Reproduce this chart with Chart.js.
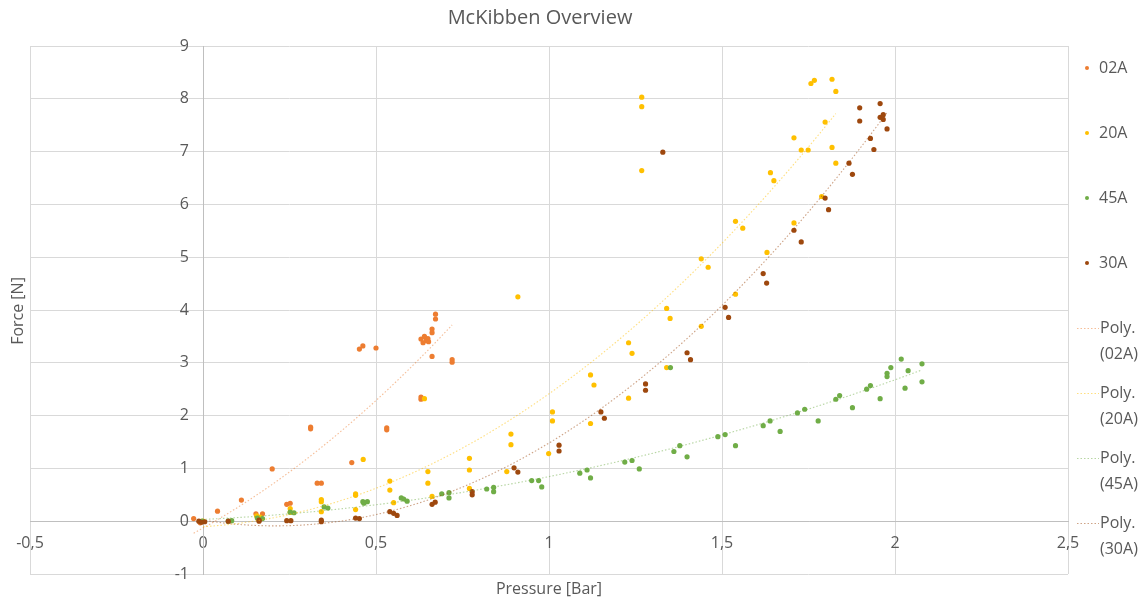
<!DOCTYPE html>
<html>
<head>
<meta charset="utf-8">
<title>McKibben Overview</title>
<script src="https://cdn.jsdelivr.net/npm/chart.js@4.4.1/dist/chart.umd.min.js"></script>
<style>
    html, body { margin: 0; padding: 0; background: #fff; }
    #wrap { width: 1148px; height: 601px; }
</style>
</head>
<body>
<div id="wrap"><canvas id="chart" width="1148" height="601"></canvas></div>
<script>
var x02A = [-0.027, -0.008, 0.042, 0.111, 0.200, 0.153, 0.172, 0.242, 0.252, 0.311, 0.311, 0.330, 0.342, 0.430,
    0.452, 0.462, 0.500, 0.531, 0.531, 0.630, 0.636, 0.640, 0.645, 0.650, 0.652, 0.662, 0.662, 0.672, 0.672,
    0.662, 0.630, 0.630, 0.720, 0.720];
var y02A = [0.05, -0.03, 0.19, 0.40, 0.99, 0.14, 0.14, 0.32, 0.34, 1.78, 1.75, 0.72, 0.72, 1.11,
    3.26, 3.32, 3.28, 1.77, 1.73, 3.45, 3.38, 3.50, 3.42, 3.46, 3.40, 3.64, 3.57, 3.92, 3.83,
    3.12, 2.35, 2.31, 3.06, 3.01];

var x20A = [0.000, 0.155, 0.165, 0.252, 0.252, 0.342, 0.342, 0.342, 0.441, 0.441, 0.441, 0.463, 0.540, 0.540, 0.551,
    0.640, 0.650, 0.650, 0.662, 0.770, 0.770, 0.770, 0.878, 0.890, 0.890, 0.910, 0.999, 1.010, 1.010,
    1.120, 1.130, 1.120, 1.230, 1.240, 1.230, 1.268, 1.268, 1.268, 1.340, 1.350, 1.340, 1.440, 1.440, 1.460,
    1.539, 1.560, 1.539, 1.630, 1.640, 1.650, 1.708, 1.708, 1.729, 1.749, 1.757, 1.767, 1.818, 1.829,
    1.798, 1.818, 1.829, 1.788];
var y20A = [0.00, 0.10, 0.08, 0.24, 0.17, 0.41, 0.37, 0.18, 0.52, 0.49, 0.22, 1.17, 0.76, 0.59, 0.35,
    2.32, 0.94, 0.72, 0.47, 1.19, 0.97, 0.62, 0.94, 1.65, 1.45, 4.25, 1.28, 2.07, 1.90,
    2.77, 2.58, 1.85, 3.38, 3.18, 2.33, 8.03, 7.85, 6.64, 4.03, 3.84, 2.91, 3.69, 4.97, 4.81,
    5.68, 5.55, 4.30, 5.09, 6.60, 6.45, 5.65, 7.26, 7.03, 7.03, 8.29, 8.35, 8.37, 8.14,
    7.56, 7.08, 6.78, 6.15];

var x45A = [-0.003, 0.073, 0.083, 0.157, 0.172, 0.252, 0.263, 0.350, 0.361, 0.462, 0.475, 0.465, 0.573, 0.580, 0.590,
    0.690, 0.711, 0.711, 0.820, 0.840, 0.840, 0.950, 0.970, 0.979, 1.089, 1.110, 1.120, 1.219, 1.240, 1.261,
    1.351, 1.361, 1.378, 1.399, 1.488, 1.509, 1.539, 1.619, 1.639, 1.668, 1.718, 1.739, 1.778, 1.829, 1.840,
    1.877, 1.918, 1.929, 1.957, 1.977, 1.977, 1.988, 2.018, 2.029, 2.038, 2.078, 2.078];
var y45A = [0.00, 0.00, 0.01, 0.06, 0.05, 0.17, 0.16, 0.27, 0.25, 0.37, 0.37, 0.34, 0.44, 0.42, 0.38,
    0.52, 0.54, 0.44, 0.61, 0.64, 0.56, 0.77, 0.77, 0.65, 0.91, 0.97, 0.82, 1.12, 1.15, 0.99,
    2.91, 1.32, 1.43, 1.22, 1.60, 1.64, 1.43, 1.81, 1.90, 1.70, 2.05, 2.12, 1.90, 2.31, 2.38,
    2.15, 2.50, 2.57, 2.32, 2.80, 2.74, 2.91, 3.07, 2.52, 2.85, 2.98, 2.64];

var x30A = [-0.012, -0.005, 0.005, 0.073, 0.162, 0.162, 0.242, 0.254, 0.342, 0.342, 0.441, 0.452, 0.540, 0.551, 0.561,
    0.662, 0.671, 0.778, 0.778, 0.899, 0.910, 1.029, 1.029, 1.150, 1.160, 1.279, 1.279, 1.329, 1.399, 1.409,
    1.509, 1.519, 1.619, 1.629, 1.708, 1.729, 1.798, 1.808, 1.867, 1.877, 1.898, 1.898, 1.929, 1.939,
    1.957, 1.957, 1.966, 1.966, 1.977];
var y30A = [0.00, -0.02, -0.01, 0.00, 0.02, 0.00, 0.01, 0.01, 0.02, -0.01, 0.06, 0.05, 0.18, 0.15, 0.11,
    0.32, 0.36, 0.56, 0.50, 1.01, 0.93, 1.44, 1.33, 2.07, 1.95, 2.60, 2.48, 6.99, 3.19, 3.06,
    4.05, 3.86, 4.69, 4.51, 5.51, 5.29, 6.12, 5.90, 6.78, 6.57, 7.83, 7.58, 7.25, 7.04,
    7.91, 7.65, 7.70, 7.61, 7.43];

var seriesNames = ['02A', '20A', '45A', '30A'];
var seriesColors = ['#ED7D31', '#FFC000', '#70AD47', '#9E480E'];
var trendColors = ['rgba(237,125,49,0.5)', 'rgba(255,192,0,0.5)', 'rgba(112,173,71,0.5)', 'rgba(158,72,14,0.5)'];
var seriesX = [x02A, x20A, x45A, x30A];
var seriesY = [y02A, y20A, y45A, y30A];

var TEXT = '#595959';
var FONT = '"Open Sans", "Noto Sans", sans-serif';

function toPoints(xs, ys) {
    var pts = [];
    for (var i = 0; i < xs.length; i++) pts.push({ x: xs[i], y: ys[i] });
    return pts;
}

// Least squares y = a + b*x + c*x^2 (what Excel calls "Poly." order 2)
function polyFit2(xs, ys) {
    var s = [0, 0, 0, 0, 0], t = [0, 0, 0];
    for (var i = 0; i < xs.length; i++) {
        var p = 1;
        for (var k = 0; k < 5; k++) {
            s[k] += p;
            if (k < 3) t[k] += p * ys[i];
            p *= xs[i];
        }
    }
    var m = [[s[0], s[1], s[2]], [s[1], s[2], s[3]], [s[2], s[3], s[4]]];
    function det(a) {
        return a[0][0] * (a[1][1] * a[2][2] - a[1][2] * a[2][1])
             - a[0][1] * (a[1][0] * a[2][2] - a[1][2] * a[2][0])
             + a[0][2] * (a[1][0] * a[2][1] - a[1][1] * a[2][0]);
    }
    var d = det(m), coef = [];
    for (var c = 0; c < 3; c++) {
        var mc = m.map(function (row, r) { var nr = row.slice(); nr[c] = t[r]; return nr; });
        coef.push(det(mc) / d);
    }
    return coef;
}

// Trendline drawn over the data's x range, like Excel does
function trendPoints(xs, ys) {
    var cf = polyFit2(xs, ys);
    var lo = Math.min.apply(null, xs), hi = Math.max.apply(null, xs);
    var pts = [], n = 80;
    for (var i = 0; i <= n; i++) {
        var x = lo + (hi - lo) * i / n;
        pts.push({ x: x, y: cf[0] + cf[1] * x + cf[2] * x * x });
    }
    return pts;
}

var datasets = [];
for (var i = 0; i < seriesNames.length; i++) {
    datasets.push({
        label: seriesNames[i],
        data: toPoints(seriesX[i], seriesY[i]),
        backgroundColor: seriesColors[i],
        borderColor: seriesColors[i],
        pointRadius: 2.6,
        pointBorderWidth: 0,
        pointHoverRadius: 2.6,
        order: 8 - i
    });
}
for (var j = 0; j < seriesNames.length; j++) {
    datasets.push({
        label: 'Poly. (' + seriesNames[j] + ')',
        trend: true,
        data: trendPoints(seriesX[j], seriesY[j]),
        showLine: true,
        borderColor: trendColors[j],
        borderWidth: 1.1,
        borderDash: [1.5, 2],
        pointRadius: 0,
        order: 0
    });
}

// Title, axis titles, y tick labels and the right-hand legend, placed like the Excel chart
var excelDecor = {
    id: 'excelDecor',
    afterDraw: function (chart) {
        var ctx = chart.ctx;
        var xs = chart.scales.x, ys = chart.scales.y;
        ctx.save();
        ctx.fillStyle = TEXT;
        ctx.textBaseline = 'middle';

        ctx.font = '20px ' + FONT;
        ctx.textAlign = 'center';
        ctx.fillText('McKibben Overview', 540, 18);

        ctx.font = '16px ' + FONT;
        ctx.fillText('Pressure [Bar]', 549, 589);
        ctx.save();
        ctx.translate(18, 311);
        ctx.rotate(-Math.PI / 2);
        ctx.fillText('Force [N]', 0, 0);
        ctx.restore();

        // y labels sit left of the vertical axis at x = 0 (Excel crossing)
        ctx.textAlign = 'right';
        var x0 = xs.getPixelForValue(0);
        ys.ticks.forEach(function (t) {
            ctx.fillText(String(t.value), x0 - 14, ys.getPixelForValue(t.value));
        });

        ctx.textAlign = 'left';
        chart.data.datasets.forEach(function (ds, i) {
            var y = 68 + 65 * i;
            if (ds.trend) {
                ctx.save();
                ctx.strokeStyle = ds.borderColor;
                ctx.lineWidth = 1.2;
                ctx.setLineDash([1.5, 2]);
                ctx.beginPath();
                ctx.moveTo(1077, y + 0.5);
                ctx.lineTo(1099, y + 0.5);
                ctx.stroke();
                ctx.restore();
                var parts = ds.label.split(' ');
                ctx.fillText(parts[0], 1100, y);
                ctx.fillText(parts[1], 1100, y + 26);
            } else {
                ctx.beginPath();
                ctx.fillStyle = ds.backgroundColor;
                ctx.arc(1087, y, 2, 0, Math.PI * 2);
                ctx.fill();
                ctx.fillStyle = TEXT;
                ctx.fillText(ds.label, 1099, y);
            }
        });
        ctx.restore();
    }
};

new Chart(document.getElementById('chart'), {
    type: 'scatter',
    data: { datasets: datasets },
    options: {
        responsive: false,
        animation: false,
        layout: { padding: { left: 30, right: 80, top: 46, bottom: 27 } },
        plugins: {
            legend: { display: false },
            tooltip: { enabled: false }
        },
        scales: {
            x: {
                type: 'linear',
                min: -0.5,
                max: 2.5,
                position: { y: 0 },
                grid: { color: '#D9D9D9', drawTicks: false },
                border: { color: '#BFBFBF' },
                ticks: {
                    stepSize: 0.5,
                    padding: 13,
                    color: TEXT,
                    font: { family: FONT, size: 16 },
                    callback: function (v) { return String(v).replace('.', ','); }
                }
            },
            y: {
                type: 'linear',
                min: -1,
                max: 9,
                position: { x: 0 },
                grid: { color: '#D9D9D9', drawTicks: false },
                border: { color: '#BFBFBF' },
                ticks: { stepSize: 1, display: false }
            }
        }
    },
    plugins: [excelDecor]
});
</script>
</body>
</html>
